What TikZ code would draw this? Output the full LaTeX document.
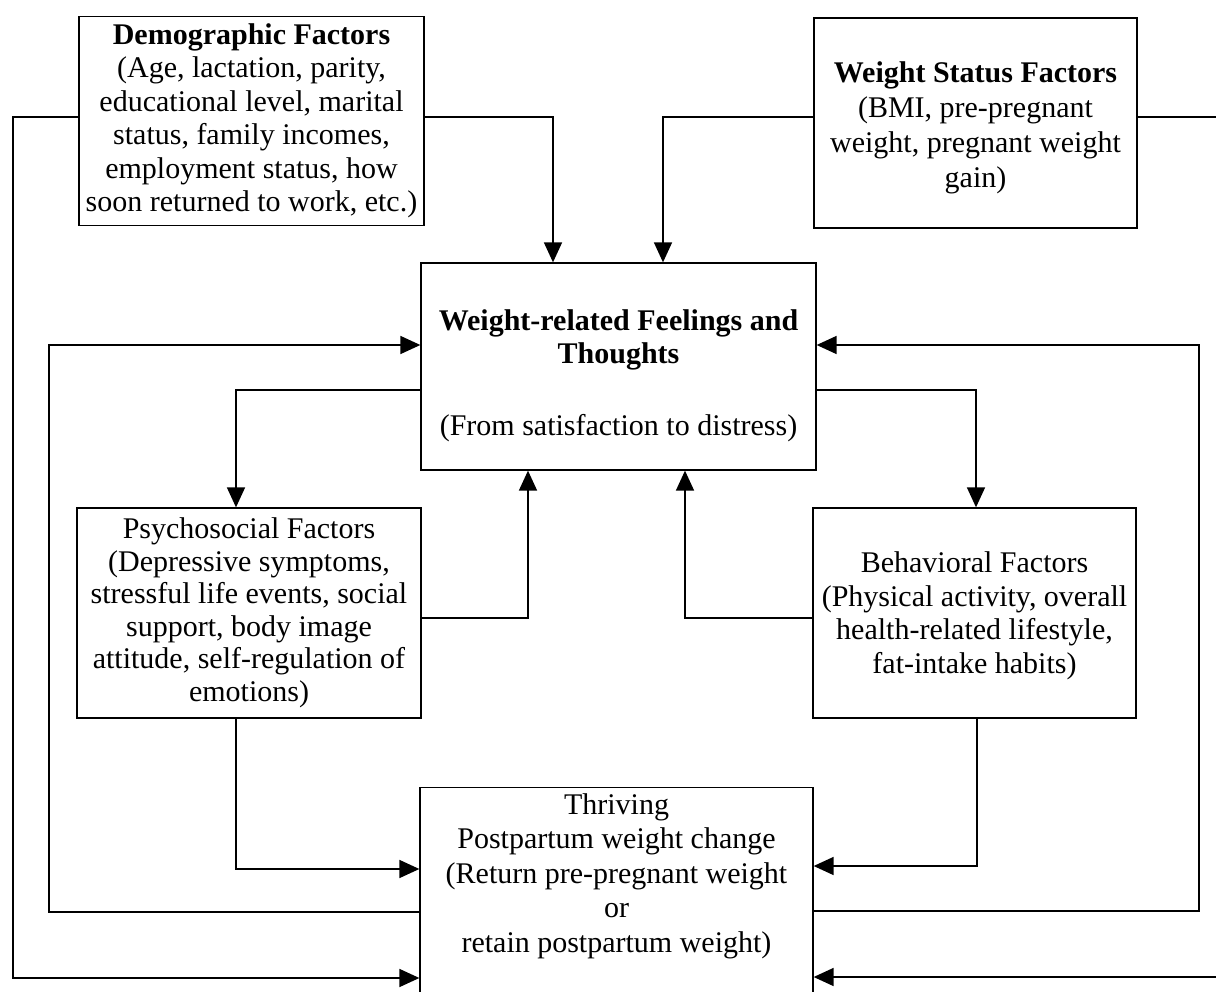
\documentclass[tikz,border=0pt]{standalone}
\usepackage{fontspec}
\setmainfont{Liberation Serif}
\usetikzlibrary{arrows.meta}
\begin{document}
\begin{tikzpicture}[x=1pt,y=-1pt,
  box/.style={draw, line width=1.3pt, rectangle, inner sep=0pt, align=center,
    font=\fontsize{30}{33.5}\selectfont},
  txt/.style={align=center, inner sep=0pt, font=\fontsize{30}{34.5}\selectfont},
  conn/.style={line width=1.6pt},
  arr/.style={conn, -{Triangle[length=20pt,width=18pt]}}]
\useasboundingbox (0,0) rectangle (1216,992);
\clip (0,0) rectangle (1216,992);

% boxes
\node[box, minimum width=345pt, minimum height=209pt] (demo) at (251.5,121)
  {\textbf{Demographic Factors}\\(Age, lactation, parity,\\educational level, marital\\status, family incomes,\\employment status, how\\soon returned to work, etc.)};
\node[box, minimum width=323pt, minimum height=210pt, font=\fontsize{30}{35}\selectfont] (wsf) at (975.5,123)
  {\rule{0pt}{30pt}\textbf{Weight Status Factors}\\(BMI, pre-pregnant\\weight, pregnant weight\\gain)};
\node[box, minimum width=395pt, minimum height=207pt] (central) at (618.5,366.5)
  {\rule{0pt}{39pt}\textbf{Weight-related Feelings and}\\\textbf{Thoughts}\\[38.5pt](From satisfaction to distress)};
\node[box, minimum width=344pt, minimum height=210pt, font=\fontsize{30}{32.5}\selectfont] (psych) at (249,613)
  {Psychosocial Factors\\(Depressive symptoms,\\stressful life events, social\\support, body image\\attitude, self-regulation of\\emotions)};
\node[box, minimum width=323pt, minimum height=210pt] (behav) at (974.5,613)
  {\rule{0pt}{26pt}Behavioral Factors\\(Physical activity, overall\\health-related lifestyle,\\fat-intake habits)};
\node[box, minimum width=393pt, minimum height=230pt, anchor=north] (thr) at (616.5,787) {};
\node[txt, anchor=north] (thrtxt) at (616.5,793)
  {Thriving\\Postpartum weight change\\(Return pre-pregnant weight\\or\\retain postpartum weight)};

% bend coordinates
\coordinate (c1) at (553,117);
\coordinate (c2) at (663,117);
\coordinate (olt) at (13,117);
\coordinate (olb) at (13,978);
\coordinate (ort) at (1230,117);
\coordinate (orb) at (1230,977);
\coordinate (ilt) at (49,345);
\coordinate (ilb) at (49,912);
\coordinate (irt) at (1199,345);
\coordinate (irb) at (1199,911);
\coordinate (pl) at (236,390);
\coordinate (pr) at (976,390);
\coordinate (pu) at (528,618);
\coordinate (bu) at (685,618);
\coordinate (pd) at (236,869);
\coordinate (bd) at (977,866);

% connectors
\draw[arr] (demo.east |- c1) -- (c1) -- (central.north -| c1);
\draw[arr] (wsf.west |- c2) -- (c2) -- (central.north -| c2);
\draw[arr] (demo.west |- olt) -- (olt) -- (olb) -- (thr.west |- olb);
\draw[arr] (wsf.east |- ort) -- (ort) -- (orb) -- (thr.east |- orb);
\draw[arr] (thr.west |- ilb) -- (ilb) -- (ilt) -- (central.west |- ilt);
\draw[arr] (thr.east |- irb) -- (irb) -- (irt) -- (central.east |- irt);
\draw[arr] (central.west |- pl) -- (pl) -- (psych.north -| pl);
\draw[arr] (central.east |- pr) -- (pr) -- (behav.north -| pr);
\draw[arr] (psych.east |- pu) -- (pu) -- (central.south -| pu);
\draw[arr] (behav.west |- bu) -- (bu) -- (central.south -| bu);
\draw[arr] (psych.south -| pd) -- (pd) -- (thr.west |- pd);
\draw[arr] (behav.south -| bd) -- (bd) -- (thr.east |- bd);
\end{tikzpicture}
\end{document}
